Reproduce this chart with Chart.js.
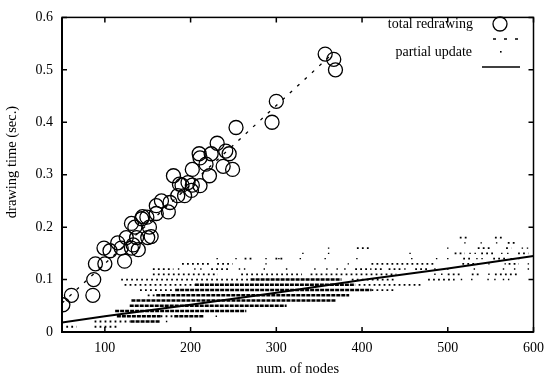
<!DOCTYPE html>
<html>
<head>
<meta charset="utf-8">
<script src="https://cdn.jsdelivr.net/npm/chart.js@4.4.1/dist/chart.umd.min.js"></script>
<style>
  html, body { margin: 0; padding: 0; background: #fff; }
  #wrap { width: 552px; height: 378px; }
</style>
</head>
<body>
<div id="wrap"><canvas id="c" width="552" height="378"></canvas></div>
<script>
// ---- data ----
const xTicks = [100, 200, 300, 400, 500, 600];
const yTicks = [0, 0.1, 0.2, 0.3, 0.4, 0.5, 0.6];
const yTickLabels = ["0", "0.1", "0.2", "0.3", "0.4", "0.5", "0.6"];

// total redrawing: [nodes, seconds]
const totalPoints = [
  [51,0.052],[61,0.07],[86,0.07],[87,0.10],[89,0.13],[99,0.16],[100,0.13],[106,0.155],
  [115,0.17],[119,0.16],[123,0.135],[125,0.18],[131,0.16],[133,0.166],[135,0.20],[131,0.207],
  [137,0.18],[139,0.157],[143,0.216],[144,0.22],[149,0.219],[150,0.18],[152,0.20],[154,0.182],
  [160,0.226],[160,0.241],[166,0.25],[174,0.229],[176,0.247],[180,0.298],[185,0.26],[187,0.282],
  [190,0.28],[197,0.285],[201,0.27],[193,0.26],[202,0.28],[202,0.31],[211,0.279],[211,0.332],
  [210,0.34],[218,0.32],[222,0.298],[224,0.34],[231,0.36],[238,0.316],[241,0.345],[245,0.34],
  [249,0.31],[253,0.39],[295,0.40],[300,0.44],[357,0.53],[367,0.52],[369,0.50]
];
// fitted line for total redrawing
const totalFit = [[50,0.055],[365,0.53]];

// partial update: rows of measurements, [seconds, from nodes, to nodes]
const partialDense = [
  [0.02,130,165],
  [0.03,114,165],[0.03,181,216],
  [0.04,112,265],
  [0.05,129,312],
  [0.06,131,370],
  [0.07,160,385],
  [0.08,182,411],
  [0.09,205,392],
  [0.10,270,376]
];
const partialSparse = [
  [0.01,55,67],[0.01,88,114],
  [0.02,88,130],
  [0.03,165,181],
  [0.07,150,160],
  [0.08,141,180],[0.08,411,440],
  [0.09,123,205],[0.09,396,470],
  [0.10,119,270],[0.10,388,440],[0.10,477,508],
  [0.11,156,232],[0.11,259,330],[0.11,340,440],[0.11,500,516],[0.11,528,539],[0.11,555,583],
  [0.12,156,180],[0.12,224,245],[0.12,392,411],[0.12,415,426],[0.12,431,446],[0.12,462,476],
  [0.13,190,222],[0.13,231,249],[0.13,411,486],[0.13,517,536],[0.13,571,583],
  [0.14,263,272],[0.14,299,310],[0.14,518,528],[0.14,553,567],
  [0.15,508,520],[0.15,539,555],[0.15,582,594],
  [0.16,394,409],[0.16,535,551],[0.16,568,574],
  [0.17,570,578],
  [0.18,514,522],[0.18,555,563]
];
const partialDots = [
  [172,0.02],[230,0.03],
  [516,0.10],[528,0.10],[547,0.10],[555,0.10],[565,0.10],[571,0.10],
  [485,0.11],[493,0.11],[548,0.11],
  [186,0.12],[205,0.12],[212,0.12],[257,0.12],[263,0.12],[286,0.12],[312,0.12],[345,0.12],
  [359,0.12],[371,0.12],[380,0.12],[450,0.12],[485,0.12],[500,0.12],[531,0.12],[565,0.12],[578,0.12],[594,0.12],
  [288,0.13],[384,0.13],[548,0.13],[567,0.13],[594,0.13],
  [231,0.14],[253,0.14],[288,0.14],[303,0.14],[328,0.14],[357,0.14],[394,0.14],[458,0.14],
  [487,0.14],[500,0.14],[534,0.14],[540,0.14],[574,0.14],[583,0.14],
  [331,0.15],[361,0.15],[456,0.15],[526,0.15],[532,0.15],[563,0.15],[570,0.15],
  [361,0.16],[500,0.16],[587,0.16],[593,0.16],
  [520,0.17],[539,0.17],[557,0.17]
];
// fitted line for partial update
const partialFit = [[50,0.018],[100,0.03],[200,0.052],[300,0.075],[400,0.099],[500,0.121],[600,0.145]];

// ---- helpers ----
const pts = arr => arr.map(p => ({ x: p[0], y: p[1] }));
function runsToLine(runs) {
  const out = [];
  runs.forEach(r => {
    out.push({ x: r[1], y: r[0] }, { x: r[2], y: r[0] }, { x: r[2], y: null });
  });
  return out;
}

const FONT = "'Liberation Serif', 'Times New Roman', serif";

// frame with inward ticks on all four sides, gnuplot style
const framePlugin = {
  id: "frame",
  afterDatasetsDraw(chart) {
    const { ctx, chartArea: a, scales } = chart;
    ctx.save();
    ctx.strokeStyle = "#000";
    ctx.lineWidth = 1.5;
    ctx.strokeRect(a.left, a.top, a.right - a.left, a.bottom - a.top);
    ctx.lineWidth = 2;
    ctx.beginPath();
    ctx.moveTo(a.left, a.top); ctx.lineTo(a.left, a.bottom); ctx.lineTo(a.right, a.bottom);
    ctx.stroke();
    ctx.lineWidth = 1.5;
    ctx.beginPath();
    xTicks.forEach(v => {
      const px = scales.x.getPixelForValue(v);
      ctx.moveTo(px, a.bottom); ctx.lineTo(px, a.bottom - 5);
      ctx.moveTo(px, a.top); ctx.lineTo(px, a.top + 5);
    });
    yTicks.forEach(v => {
      const py = scales.y.getPixelForValue(v);
      ctx.moveTo(a.left, py); ctx.lineTo(a.left + 5, py);
      ctx.moveTo(a.right, py); ctx.lineTo(a.right - 5, py);
    });
    ctx.stroke();
    ctx.restore();
  }
};

// key in the top right corner, and the y title (sits a bit above centre)
const keyPlugin = {
  id: "key",
  afterDraw(chart) {
    const ctx = chart.ctx;
    ctx.save();
    ctx.fillStyle = "#000";
    ctx.strokeStyle = "#000";
    ctx.font = "14px " + FONT;
    ctx.textAlign = "right";
    ctx.textBaseline = "middle";
    ctx.fillText("total redrawing", 473, 24);
    ctx.fillText("partial update", 472, 52);
    ctx.lineWidth = 1.3;
    ctx.beginPath(); ctx.arc(500, 24, 7, 0, Math.PI * 2); ctx.stroke();
    ctx.setLineDash([3, 8]);
    ctx.beginPath(); ctx.moveTo(493, 39); ctx.lineTo(520, 39); ctx.stroke();
    ctx.setLineDash([]);
    ctx.fillRect(500, 51, 1.6, 1.6);
    ctx.lineWidth = 1.6;
    ctx.beginPath(); ctx.moveTo(482, 67); ctx.lineTo(520, 67); ctx.stroke();

    ctx.translate(12, 162);
    ctx.rotate(-Math.PI / 2);
    ctx.textAlign = "center";
    ctx.font = "14.5px " + FONT;
    ctx.fillText("drawing time (sec.)", 0, 0);
    ctx.restore();
  }
};

new Chart(document.getElementById("c"), {
  type: "scatter",
  data: {
    datasets: [
      {
        label: "partial dense",
        data: runsToLine(partialDense),
        showLine: true, spanGaps: false,
        borderColor: "#000", borderWidth: 2.6, borderDash: [4, 1],
        pointRadius: 0
      },
      {
        label: "partial sparse",
        data: runsToLine(partialSparse),
        showLine: true, spanGaps: false,
        borderColor: "#000", borderWidth: 1.8, borderDash: [1.8, 3.2],
        pointRadius: 0
      },
      {
        label: "partial update",
        data: pts(partialDots),
        pointStyle: "rect", pointRadius: 1,
        backgroundColor: "#000", borderWidth: 0
      },
      {
        label: "partial fit",
        data: pts(partialFit),
        showLine: true, borderColor: "#000", borderWidth: 2,
        pointRadius: 0
      },
      {
        label: "total fit",
        data: pts(totalFit),
        showLine: true, borderColor: "#000", borderWidth: 1.3, borderDash: [3, 7],
        pointRadius: 0
      },
      {
        label: "total redrawing",
        data: pts(totalPoints),
        pointRadius: 7, pointStyle: "circle",
        borderColor: "#000", borderWidth: 1.3,
        backgroundColor: "rgba(0,0,0,0)"
      }
    ]
  },
  options: {
    responsive: false,
    animation: false,
    events: [],
    layout: { padding: { top: 13, right: 17, left: 0, bottom: 0 } },
    plugins: { legend: { display: false }, tooltip: { enabled: false } },
    scales: {
      x: {
        type: "linear", min: 50, max: 600,
        afterBuildTicks: s => { s.ticks = xTicks.map(v => ({ value: v })); },
        afterFit: s => { s.height = 46; },
        grid: { display: false, drawTicks: false },
        border: { display: false },
        ticks: { color: "#000", font: { family: FONT, size: 14 }, padding: 8, maxRotation: 0 },
        title: { display: true, text: "num. of nodes", color: "#000",
                 font: { family: FONT, size: 14.5 }, padding: { top: 0, bottom: 0 } }
      },
      y: {
        type: "linear", min: 0, max: 0.6,
        afterBuildTicks: s => { s.ticks = yTicks.map(v => ({ value: v })); },
        afterFit: s => { s.width = 62; },
        grid: { display: false, drawTicks: false },
        border: { display: false },
        ticks: {
          color: "#000", font: { family: FONT, size: 14 }, padding: 9,
          callback: (v) => yTickLabels[yTicks.indexOf(v)] ?? ""
        }
      }
    }
  },
  plugins: [framePlugin, keyPlugin]
});
</script>
</body>
</html>
